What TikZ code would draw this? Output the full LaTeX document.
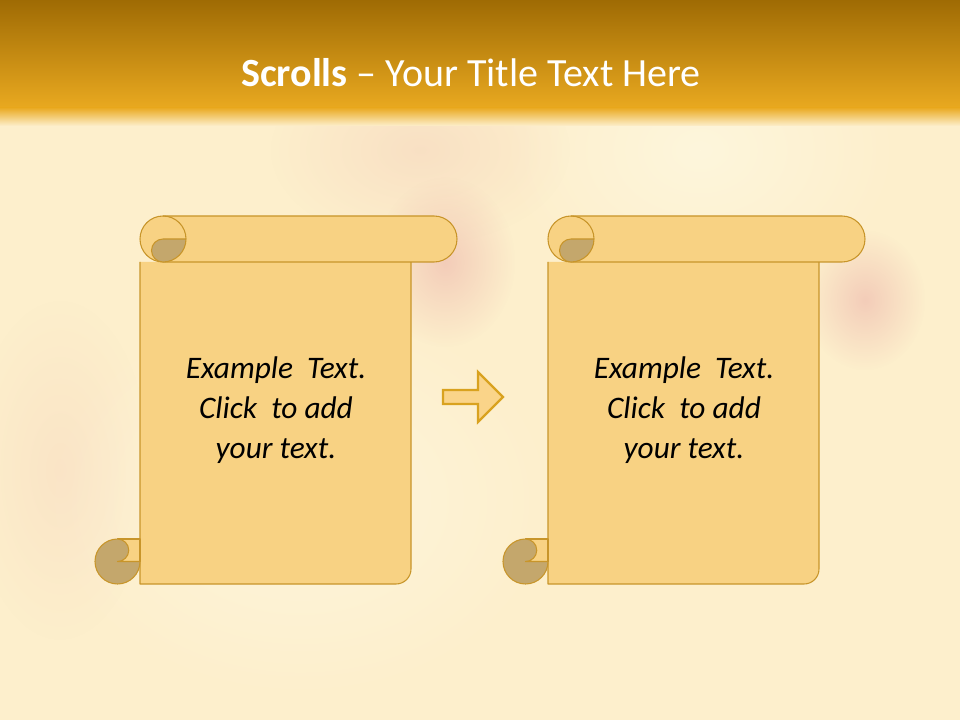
\documentclass[tikz,border=0pt]{standalone}
\usepackage{fontspec}
\setmainfont{Carlito}
\usepackage{tikz}
\usetikzlibrary{positioning,calc,fadings}
\definecolor{ScrFill}{HTML}{F8D283}
\definecolor{ScrLine}{HTML}{C8952A}
\definecolor{ScrCurl}{HTML}{C4A76C}
\definecolor{SlideBg}{HTML}{FDEFCC}
\definecolor{HeadTop}{HTML}{9F6B04}
\definecolor{HeadBot}{HTML}{E9A920}
\definecolor{ArrLine}{HTML}{D9A21F}
\definecolor{ArrFill}{HTML}{FAD489}
\definecolor{BlobPink}{HTML}{F1C4B4}
\definecolor{BlobLight}{HTML}{FEF6DC}
\tikzfading[name=blobfade,inner color=transparent!0,outer color=transparent!100]

\begin{document}
\begin{tikzpicture}[
        x=0.75pt,y=-0.75pt,
        paper/.style={fill=ScrFill,draw=ScrLine,line width=0.8pt,line join=round},
        curl/.style={fill=ScrCurl,draw=ScrLine,line width=0.8pt,line join=round},
        blob/.style={fill=BlobPink,path fading=blobfade},
        bodytext/.style={align=center,font=\itshape\fontsize{23.5pt}{30pt}\selectfont,inner sep=0pt},
        titletext/.style={text=white,font=\fontsize{30pt}{36pt}\selectfont,inner sep=0pt}
      ]
        \useasboundingbox (0,0) rectangle (960,720);
        % background and header band
        \fill[SlideBg] (0,0) rectangle (960,720);
        \fill[BlobLight,path fading=blobfade] (300,500) ellipse [x radius=260,y radius=200];
        \fill[BlobLight,path fading=blobfade] (700,150) ellipse [x radius=200,y radius=150];
        \fill[blob,fill opacity=0.35] (420,150) ellipse [x radius=150,y radius=95];
        \fill[blob,fill opacity=0.8] (445,262) ellipse [x radius=70,y radius=85];
        \fill[blob,fill opacity=0.8] (865,300) ellipse [x radius=60,y radius=70];
        \fill[blob,fill opacity=0.25] (60,470) ellipse [x radius=90,y radius=170];
        \shade[top color=HeadTop,bottom color=HeadBot] (0,0) rectangle (960,108);
        \shade[top color=HeadBot,bottom color=SlideBg] (0,107.5) rectangle (960,126);
        \node[titletext,anchor=base] (title) at (471,87) {\textbf{Scrolls} -- Your Title Text Here};

        % the two scrolls
        \foreach \sx/\nm in {0/a,408/b} {
          \draw[paper] (\sx+140,262) -- (\sx+140,584) -- (\sx+396,584)
            arc[start angle=90,end angle=0,radius=15] -- (\sx+411,262);
          \draw[paper] (\sx+117.5,539) rectangle (\sx+140,561.5);
          \draw[curl] (\sx+117.5,539) arc[start angle=270,end angle=0,radius=22.5]
            -- (\sx+117.5,561.5) arc[start angle=90,end angle=-90,radius=11.25] -- cycle;
          \draw[paper] (\sx+163,216) -- (\sx+434,216) arc[start angle=-90,end angle=90,radius=23]
            -- (\sx+163,262) arc[start angle=90,end angle=270,radius=23] -- cycle;
          \draw[curl] (\sx+186,239) -- (\sx+163,239) arc[start angle=270,end angle=90,radius=11.5]
            arc[start angle=90,end angle=0,radius=23];
          \draw[ScrLine,line width=0.8pt] (\sx+163,216) arc[start angle=270,end angle=360,radius=23];
          \node[bodytext] (txt\nm) at (\sx+276,410) {Example\ \ Text.\\Click\ \ to add\\your text.};
        }

        % block arrow between the scrolls
        \draw[fill=ArrFill,draw=ArrLine,line width=1.6pt,line join=miter]
          (443,390) -- (478,390) -- (478,372) -- (503,397) -- (478,422) -- (478,404) -- (443,404) -- cycle;
      \end{tikzpicture}
\end{document}
